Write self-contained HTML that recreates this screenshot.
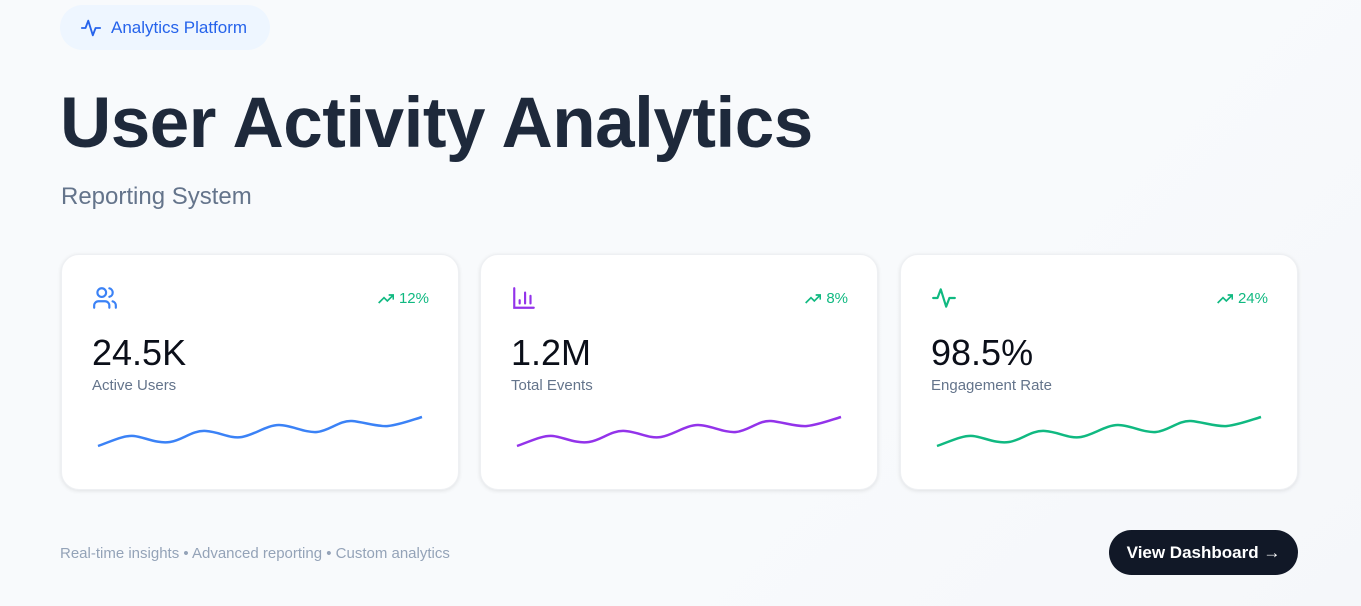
<!DOCTYPE html>
<html><head><style>
*{margin:0;padding:0;box-sizing:border-box}
body{width:1361px;height:606px;overflow:hidden;background:linear-gradient(135deg,#f8fafc,#f8fafc 60%,#f5f7fa);font-family:"Liberation Sans",sans-serif;position:relative}
.pill{position:absolute;left:60px;top:5px;width:210px;height:45px;border-radius:23px;background:#eef6ff;color:#2563eb;font-size:17px;display:flex;align-items:center;padding-left:20px}
.pill span{margin-left:9px}
h1{position:absolute;left:60px;top:83px;font-size:71px;font-weight:bold;color:#1e293b;letter-spacing:-0.5px;white-space:nowrap}
.sub{position:absolute;left:61px;top:183px;font-size:24px;color:#64748b}
.card{position:absolute;top:254px;width:398px;height:236px;background:#fff;border-radius:18px;box-shadow:0 1px 4px rgba(0,0,0,.1);border:1px solid #eef0f3}
.card .ic{position:absolute;left:30px;top:30px}
.card .tr{position:absolute;right:29px;top:35px;font-size:15px;color:#10b981;display:flex;align-items:center;gap:5px}
.card .v{position:absolute;left:30px;top:77px;font-size:36px;color:#0b0f19}
.card .l{position:absolute;left:30px;top:122px;font-size:15px;color:#64748b}
.card svg.sp{position:absolute;left:0;top:0}
.foot{position:absolute;left:60px;top:545px;font-size:15px;color:#94a3b8}
.btn{position:absolute;left:1109px;top:530px;width:189px;height:45px;border-radius:23px;background:#111827;color:#fff;font-size:17px;font-weight:bold;display:flex;align-items:center;justify-content:center}
</style></head><body>
<div class="pill"><svg width="22" height="22" viewBox="0 0 24 24" fill="none" stroke="#2563eb" stroke-width="2" stroke-linecap="round" stroke-linejoin="round"><path d="M2 12h4l3-8 5 16 3-8h5"/></svg><span>Analytics Platform</span></div>
<h1>User Activity Analytics</h1>
<div class="sub">Reporting System</div>

<div class="card" style="left:61px">
<svg class="ic" width="26" height="26" viewBox="0 0 24 24" fill="none" stroke="#3b82f6" stroke-width="2" stroke-linecap="round"><circle cx="9" cy="7" r="4"/><path d="M2 21v-2a4 4 0 0 1 4-4h6a4 4 0 0 1 4 4v2M16 3.1a4 4 0 0 1 0 7.8M22 21v-2a4 4 0 0 0-3-3.9"/></svg>
<div class="tr"><svg width="16" height="12" viewBox="0 0 24 16" fill="none" stroke="#10b981" stroke-width="2.5"><path d="M1 14l8-8 5 5 9-9M16 2h7v7"/></svg>12%</div>
<div class="v">24.5K</div><div class="l">Active Users</div>
<svg class="sp" width="398" height="236"><path d="M36 191 C50 186,62 180,72 181 S95 189,108 187 S130 175,144 176 S168 184,180 182 S205 170,217 170 S243 178,255 177 S278 165,290 166 S315 172,326 171 S350 165,360 162" fill="none" stroke="#3b82f6" stroke-width="2.5"/></svg>
</div>

<div class="card" style="left:480px">
<svg class="ic" width="26" height="26" viewBox="0 0 24 24" fill="none" stroke="#9333ea" stroke-width="2" stroke-linecap="round"><path d="M3 3v18h18M8 17v-3M13 17V7M18 17v-7"/></svg>
<div class="tr"><svg width="16" height="12" viewBox="0 0 24 16" fill="none" stroke="#10b981" stroke-width="2.5"><path d="M1 14l8-8 5 5 9-9M16 2h7v7"/></svg>8%</div>
<div class="v">1.2M</div><div class="l">Total Events</div>
<svg class="sp" width="398" height="236"><path d="M36 191 C50 186,62 180,72 181 S95 189,108 187 S130 175,144 176 S168 184,180 182 S205 170,217 170 S243 178,255 177 S278 165,290 166 S315 172,326 171 S350 165,360 162" fill="none" stroke="#9333ea" stroke-width="2.5"/></svg>
</div>

<div class="card" style="left:900px">
<svg class="ic" width="26" height="26" viewBox="0 0 24 24" fill="none" stroke="#10b981" stroke-width="2" stroke-linecap="round" stroke-linejoin="round"><path d="M2 12h4l3-8 5 16 3-8h5"/></svg>
<div class="tr"><svg width="16" height="12" viewBox="0 0 24 16" fill="none" stroke="#10b981" stroke-width="2.5"><path d="M1 14l8-8 5 5 9-9M16 2h7v7"/></svg>24%</div>
<div class="v">98.5%</div><div class="l">Engagement Rate</div>
<svg class="sp" width="398" height="236"><path d="M36 191 C50 186,62 180,72 181 S95 189,108 187 S130 175,144 176 S168 184,180 182 S205 170,217 170 S243 178,255 177 S278 165,290 166 S315 172,326 171 S350 165,360 162" fill="none" stroke="#10b981" stroke-width="2.5"/></svg>
</div>

<div class="foot">Real-time insights • Advanced reporting • Custom analytics</div>
<div class="btn">View Dashboard →</div>
</body></html>
